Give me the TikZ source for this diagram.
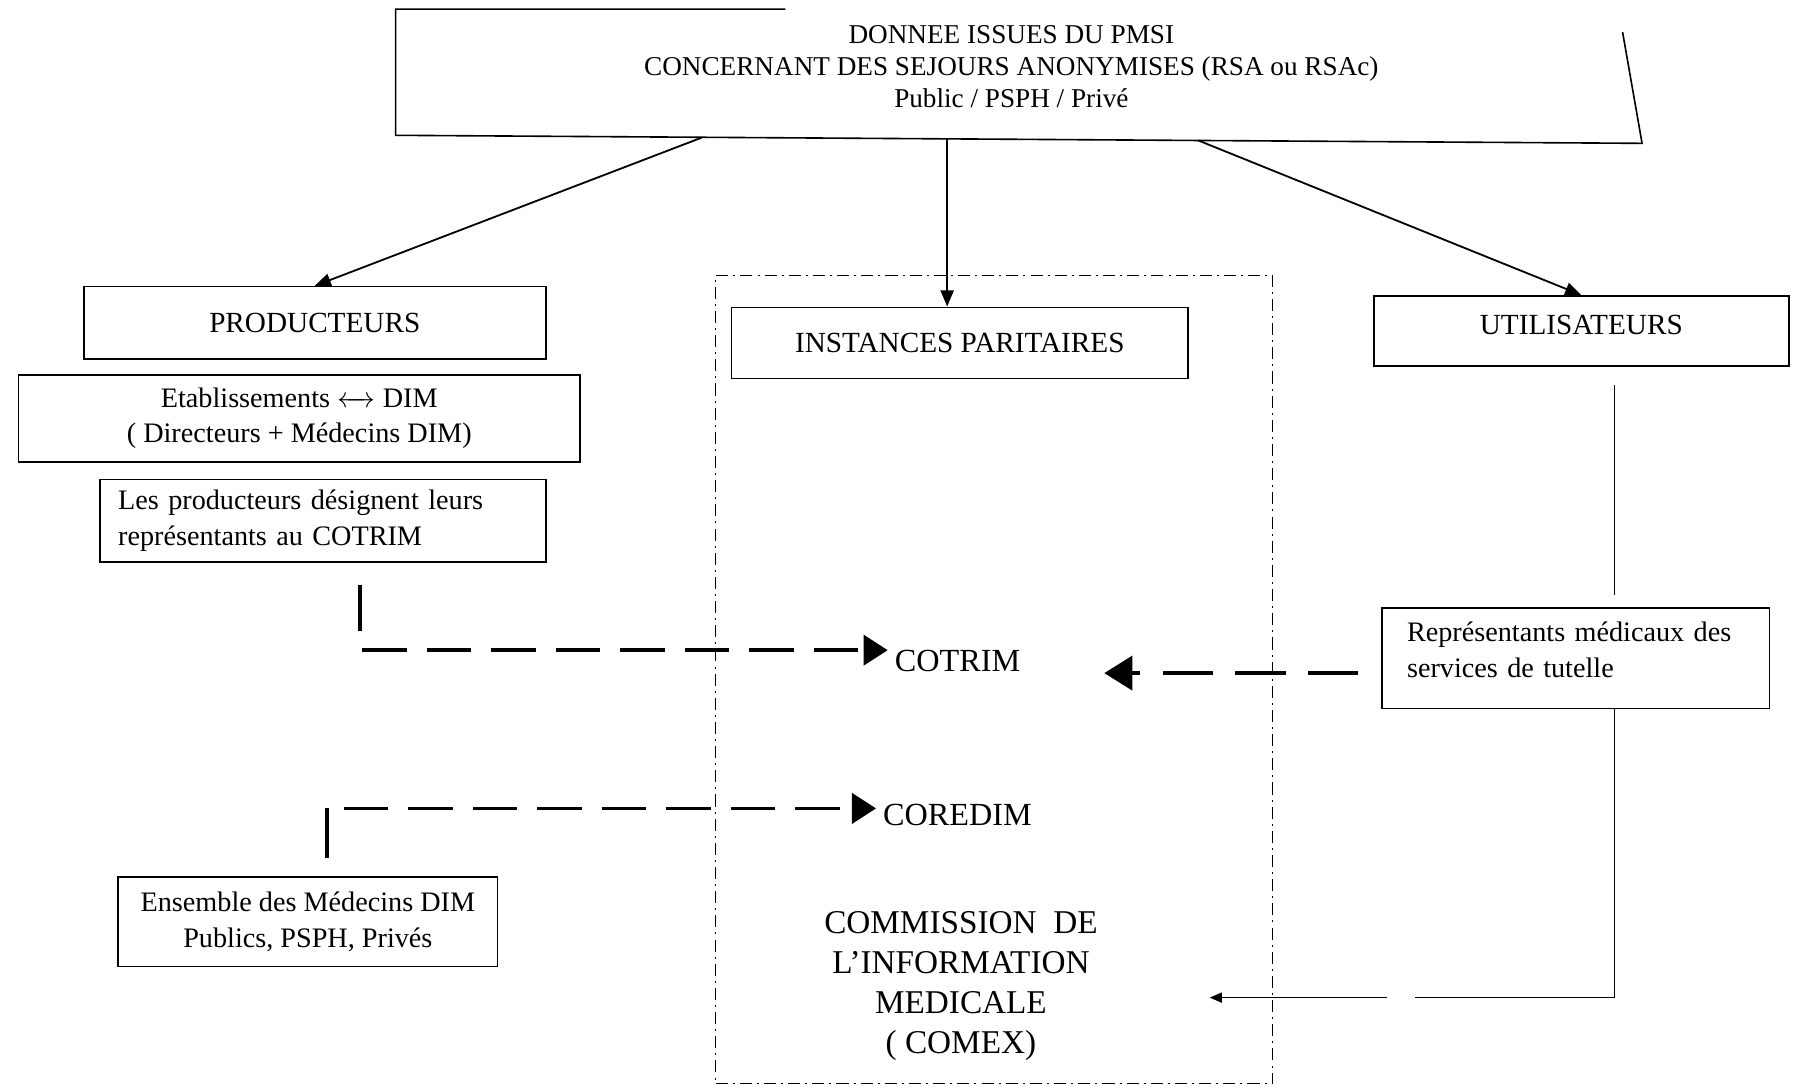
\documentclass[tikz,border=0pt]{standalone}
\usepackage{fontspec}
\setmainfont{Liberation Serif}
\usetikzlibrary{arrows.meta,calc}
\begin{document}
\begin{tikzpicture}[x=0.02cm,y=-0.02cm,
  box/.style={draw, line width=0.8pt, inner sep=0pt, align=center},
  bodytext/.style={font=\fontsize{14}{17.5}\selectfont},
  head/.style={font=\fontsize{14.5}{17}\selectfont},
  big/.style={font=\fontsize{16}{19.8}\selectfont},
  toparrow/.style={line width=0.9pt, -{Triangle[length=8pt,width=6.5pt]}},
  dasharrow/.style={line width=1.8pt, dash pattern=on 22pt off 10pt, -{Triangle[length=12pt,width=15pt]}},
  bar/.style={line width=1.8pt},
  dashdot/.style={draw, line width=0.7pt, dash pattern=on 6pt off 2.5pt on 1pt off 2.5pt},
  thinline/.style={line width=0.8pt},
  thinarrow/.style={line width=0.8pt, -{Triangle[length=6pt,width=5pt]}}
]
\path[use as bounding box, fill=white] (0,0) rectangle (1568,949);

% top block
\node[align=center, font=\fontsize{13.5}{16}\selectfont] (top) at (882,58)
  {DONNEE ISSUES DU PMSI\\CONCERNANT DES SEJOURS ANONYMISES (RSA ou RSAc)\\Public / PSPH / Privé};
\draw[thinline] (685,8) -- (345,8) -- (345,118) -- (1432,125) -- (1415,28);
\coordinate (t1) at (612,120);
\coordinate (t2) at (826,121);
\coordinate (t3) at (1045,122.5);

% group of instances paritaires
\node[dashdot, minimum width=9.72cm, minimum height=14.1cm] (grp) at (867,592.5) {};

% producteurs column
\node[box, head, minimum width=8.06cm, minimum height=1.26cm] (prod) at (274.5,281.5) {PRODUCTEURS};
\node[box, bodytext, minimum width=9.8cm, minimum height=1.52cm] (etab) at (261,365)
  {Etablissements $\leftarrow\!\!\!\!\rightarrow$ DIM\\( Directeurs + Médecins DIM)};
\node[box, bodytext, align=left, text width=7.14cm, inner xsep=0.32cm, minimum height=1.44cm] (lesprod) at (281.5,454)
  {Les producteurs désignent leurs\\représentants au COTRIM};
\node[box, bodytext, minimum width=6.62cm, minimum height=1.56cm] (ens) at (268.5,804)
  {Ensemble des Médecins DIM\\Publics, PSPH, Privés};

% instances
\node[box, head, minimum width=7.96cm, minimum height=1.24cm] (inst) at (837,299) {INSTANCES PARITAIRES};
\node[big, inner sep=0.3333em] (cotrim) at (835,576) {COTRIM};
\node[big, inner sep=0.3333em] (coredim) at (835,711) {COREDIM};
\node[align=center, font=\fontsize{16.5}{19.8}\selectfont] (comm) at (838,860)
  {COMMISSION~ DE\\L'INFORMATION\\MEDICALE\\( COMEX)};

% utilisateurs column
\node[box, head, minimum width=7.24cm, minimum height=1.22cm] (util) at (1379,288.5) {UTILISATEURS\rule[-0.2cm]{0pt}{0.1pt}};
\node[box, bodytext, align=left, text width=5.88cm, inner xsep=0.44cm, minimum height=1.76cm] (rep) at (1374,574)
  {Représentants médicaux des\\services de tutelle\rule[-0.3cm]{0pt}{0.1pt}};

% arrows from the top block
\draw[toparrow] (t1) -- (prod.north);
\draw[toparrow] (t2) -- (t2 |- inst.north);
\draw[toparrow] (t3) -- (util.north);

% producteurs -> COTRIM
\coordinate (b1) at (314,510);
\draw[bar] (b1) -- ++(0,40);
\coordinate (d1) at (316,567);
\draw[dasharrow] (d1) -- (d1 -| cotrim.west);

% medecins DIM -> COREDIM
\coordinate (b2) at (285,748);
\draw[bar] (b2) -- ++(0,-43);
\coordinate (d2) at (300,705);
\draw[dasharrow] (d2) -- (d2 -| coredim.west);

% utilisateurs -> representants -> COTRIM / COMEX
\coordinate (xr) at (1408,0);
\draw[thinline, shorten <=0.32cm, shorten >=0.2cm] (util.south -| xr) -- (rep.north -| xr);
\coordinate (d3) at (963,587);
\draw[dasharrow, dash pattern=on 25pt off 11pt, -{Triangle[length=14pt,width=17pt]}, shorten <=0.4cm] (rep.west |- d3) -- (d3);
\coordinate (cin) at (1055,870);
\draw[thinarrow, dash pattern=on 242pt off 14.2pt on 400pt] (rep.south -| xr) |- (cin);
\end{tikzpicture}
\end{document}
